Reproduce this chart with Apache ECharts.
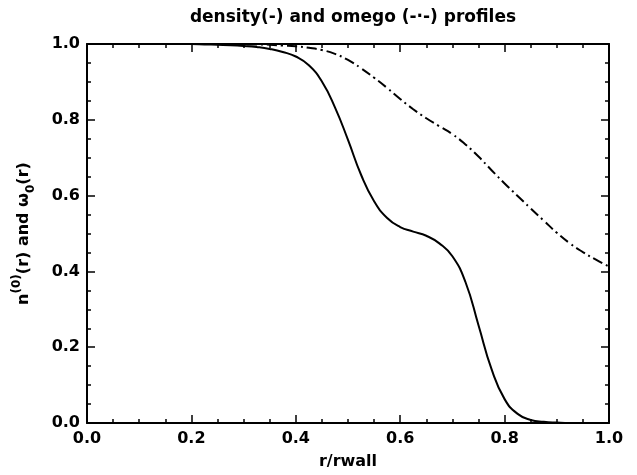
<!DOCTYPE html>
<html>
<head>
<meta charset="utf-8">
<script src="https://cdn.jsdelivr.net/npm/echarts@6/dist/echarts.min.js"></script>
<style>
html,body{margin:0;padding:0;background:#fff;}
#chart{width:637px;height:475px;}
</style>
</head>
<body>
<div id="chart"></div>
<script>
// Data
var titleText = 'density(-) and omego (-\u00b7-) profiles';
var xTitle = 'r/rwall';

// sample positions (r/rwall), every 0.025
var rValues = [0, 0.025, 0.05, 0.075, 0.1, 0.125, 0.15, 0.175, 0.2, 0.225, 0.25, 0.275, 0.3, 0.325, 0.35, 0.375, 0.4, 0.425, 0.45, 0.475, 0.5, 0.525, 0.55, 0.575, 0.6, 0.625, 0.65, 0.675, 0.7, 0.725, 0.75, 0.775, 0.8, 0.825, 0.85, 0.875, 0.9, 0.925, 0.95, 0.975, 1.0];
// density profile n^(0)(r) (solid)
var densityY = [1, 1, 1, 1, 1, 1, 1, 1, 1, 0.999, 0.998, 0.997, 0.995, 0.992, 0.987, 0.979, 0.967, 0.944, 0.901, 0.833, 0.747, 0.655, 0.585, 0.541, 0.517, 0.505, 0.494, 0.474, 0.44, 0.372, 0.258, 0.142, 0.063, 0.024, 0.008, 0.003, 0.001, 0, 0, 0, 0];
// omega profile w_0(r) (dash-dot)
var omegaY = [1, 1, 1, 1, 1, 1, 1, 1, 1, 1, 1, 0.999, 0.999, 0.999, 0.998, 0.996, 0.994, 0.99, 0.984, 0.974, 0.958, 0.936, 0.911, 0.884, 0.855, 0.828, 0.804, 0.783, 0.762, 0.735, 0.703, 0.667, 0.632, 0.599, 0.566, 0.534, 0.502, 0.474, 0.451, 0.431, 0.413];

var xTicks = [0, 0.2, 0.4, 0.6, 0.8, 1.0];
var yTicks = [0, 0.2, 0.4, 0.6, 0.8, 1.0];

function pairs(xs, ys) { return xs.map(function (x, i) { return [x, ys[i]]; }); }

var FONT = 'DejaVu Sans';
var chart = echarts.init(document.getElementById('chart'), null, {renderer: 'canvas'});

function axisBase(pos, show, isX) {
  var ticks = isX ? xTicks : yTicks;
  return {
    type: 'value', position: pos,
    min: ticks[0], max: ticks[ticks.length - 1], interval: ticks[1] - ticks[0],
    axisLine: {show: true, onZero: false, lineStyle: {color: '#000', width: 2}},
    axisTick: {show: true, inside: true, length: 8, lineStyle: {color: '#000', width: 1.5}},
    minorTick: {show: true, splitNumber: 4, length: 4, lineStyle: {color: '#000', width: 1.5}},
    splitLine: {show: false},
    minorSplitLine: {show: false},
    axisLabel: {
      show: show, color: '#000', fontFamily: FONT, fontWeight: 'bold', fontSize: 16,
      margin: isX ? 8 : 7,
      formatter: function (v) { return v.toFixed(1); }
    }
  };
}

var xBottom = axisBase('bottom', true, true);
xBottom.name = xTitle;
xBottom.nameLocation = 'middle';
xBottom.nameGap = 31;
xBottom.nameTextStyle = {color: '#000', fontFamily: FONT, fontWeight: 'bold', fontSize: 16};
var xTop = axisBase('top', false, true);

var yLeft = axisBase('left', true, false);
yLeft.name = '{n|n}{sup|(0)}{n|(r) and \u03c9}{sub|0}{n|(r)}';
yLeft.nameLocation = 'middle';
yLeft.nameGap = 50;
yLeft.nameRotate = 90;
yLeft.nameTextStyle = {
  color: '#000', fontFamily: FONT, fontWeight: 'bold', fontSize: 16,
  rich: {
    n: {color: '#000', fontFamily: FONT, fontWeight: 'bold', fontSize: 16, lineHeight: 26, verticalAlign: 'middle'},
    sup: {color: '#000', fontFamily: FONT, fontWeight: 'bold', fontSize: 12, lineHeight: 26, verticalAlign: 'top'},
    sub: {color: '#000', fontFamily: FONT, fontWeight: 'bold', fontSize: 12, lineHeight: 26, verticalAlign: 'bottom'}
  }
};
var yRight = axisBase('right', false, false);

chart.setOption({
  backgroundColor: '#fff',
  animation: false,
  title: {
    text: titleText, left: 348, textAlign: 'center', top: 4,
    textStyle: {color: '#000', fontFamily: FONT, fontWeight: 'bold', fontSize: 17}
  },
  grid: {left: 87, right: 28, top: 44, bottom: 44, containLabel: false},
  xAxis: [xBottom, xTop],
  yAxis: [yLeft, yRight],
  series: [
    {
      name: 'density', type: 'line', xAxisIndex: 0, yAxisIndex: 0,
      data: pairs(rValues, densityY), showSymbol: false, smooth: 0.5,
      lineStyle: {color: '#000', width: 2}
    },
    {
      name: 'omega', type: 'line', xAxisIndex: 0, yAxisIndex: 0,
      data: pairs(rValues, omegaY), showSymbol: false, smooth: 0.5,
      lineStyle: {color: '#000', width: 2, type: [10, 4, 2, 4]}
    }
  ]
});
</script>
</body>
</html>
